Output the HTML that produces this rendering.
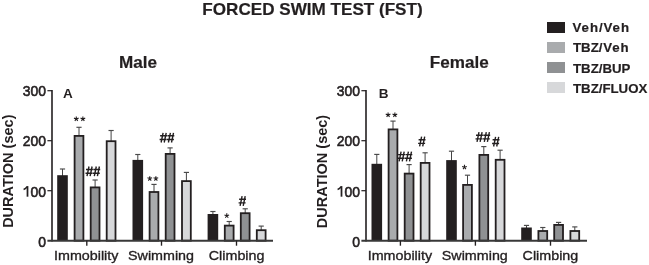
<!DOCTYPE html>
<html><head><meta charset="utf-8"><style>
html,body{margin:0;padding:0;background:#fff;}
svg{display:block;will-change:transform;}
text{font-family:"Liberation Sans",sans-serif;fill:#231f20;}
.tt{font-size:17.1px;font-weight:bold;stroke:#231f20;stroke-width:0.2px;}
.lg{font-size:13.25px;font-weight:bold;stroke:#231f20;stroke-width:0.2px;}
.yl{font-size:14.9px;stroke:#231f20;stroke-width:0.6px;}
.ab{font-size:13.5px;font-weight:bold;}
.xl{font-size:13.5px;stroke:#231f20;stroke-width:0.35px;}
.yt{font-size:14.5px;font-weight:bold;}
.st{font-size:15px;stroke:#231f20;stroke-width:0.35px;}
</style></head><body>
<svg width="649" height="265" viewBox="0 0 649 265">
<line x1="62.50" y1="176.20" x2="62.50" y2="169.00" stroke="#444" stroke-width="1"/>
<line x1="59.90" y1="169.00" x2="65.10" y2="169.00" stroke="#4a4a4a" stroke-width="1.15"/>
<rect x="57.20" y="175.20" width="10.60" height="65.50" fill="#231f20"/>
<line x1="79.00" y1="136.00" x2="79.00" y2="127.30" stroke="#444" stroke-width="1"/>
<line x1="76.40" y1="127.30" x2="81.60" y2="127.30" stroke="#4a4a4a" stroke-width="1.15"/>
<rect x="74.60" y="135.90" width="8.80" height="104.80" fill="#a9abad" stroke="#231f20" stroke-width="1.8"/>
<line x1="95.10" y1="187.50" x2="95.10" y2="180.00" stroke="#444" stroke-width="1"/>
<line x1="92.50" y1="180.00" x2="97.70" y2="180.00" stroke="#4a4a4a" stroke-width="1.15"/>
<rect x="90.70" y="187.40" width="8.80" height="53.30" fill="#8f9193" stroke="#231f20" stroke-width="1.8"/>
<line x1="111.10" y1="141.30" x2="111.10" y2="130.50" stroke="#444" stroke-width="1"/>
<line x1="108.50" y1="130.50" x2="113.70" y2="130.50" stroke="#4a4a4a" stroke-width="1.15"/>
<rect x="106.70" y="141.20" width="8.80" height="99.50" fill="#d7d8da" stroke="#231f20" stroke-width="1.8"/>
<line x1="137.80" y1="160.90" x2="137.80" y2="154.50" stroke="#444" stroke-width="1"/>
<line x1="135.20" y1="154.50" x2="140.40" y2="154.50" stroke="#4a4a4a" stroke-width="1.15"/>
<rect x="132.50" y="159.90" width="10.60" height="80.80" fill="#231f20"/>
<line x1="154.00" y1="192.10" x2="154.00" y2="184.40" stroke="#444" stroke-width="1"/>
<line x1="151.40" y1="184.40" x2="156.60" y2="184.40" stroke="#4a4a4a" stroke-width="1.15"/>
<rect x="149.60" y="192.00" width="8.80" height="48.70" fill="#a9abad" stroke="#231f20" stroke-width="1.8"/>
<line x1="170.10" y1="154.00" x2="170.10" y2="147.90" stroke="#444" stroke-width="1"/>
<line x1="167.50" y1="147.90" x2="172.70" y2="147.90" stroke="#4a4a4a" stroke-width="1.15"/>
<rect x="165.70" y="153.90" width="8.80" height="86.80" fill="#8f9193" stroke="#231f20" stroke-width="1.8"/>
<line x1="186.40" y1="181.20" x2="186.40" y2="172.40" stroke="#444" stroke-width="1"/>
<line x1="183.80" y1="172.40" x2="189.00" y2="172.40" stroke="#4a4a4a" stroke-width="1.15"/>
<rect x="182.00" y="181.10" width="8.80" height="59.60" fill="#d7d8da" stroke="#231f20" stroke-width="1.8"/>
<line x1="212.90" y1="215.00" x2="212.90" y2="211.50" stroke="#444" stroke-width="1"/>
<line x1="210.30" y1="211.50" x2="215.50" y2="211.50" stroke="#4a4a4a" stroke-width="1.15"/>
<rect x="207.60" y="214.00" width="10.60" height="26.70" fill="#231f20"/>
<line x1="229.20" y1="225.70" x2="229.20" y2="221.50" stroke="#444" stroke-width="1"/>
<line x1="226.60" y1="221.50" x2="231.80" y2="221.50" stroke="#4a4a4a" stroke-width="1.15"/>
<rect x="224.80" y="225.60" width="8.80" height="15.10" fill="#a9abad" stroke="#231f20" stroke-width="1.8"/>
<line x1="245.20" y1="213.30" x2="245.20" y2="208.80" stroke="#444" stroke-width="1"/>
<line x1="242.60" y1="208.80" x2="247.80" y2="208.80" stroke="#4a4a4a" stroke-width="1.15"/>
<rect x="240.80" y="213.20" width="8.80" height="27.50" fill="#8f9193" stroke="#231f20" stroke-width="1.8"/>
<line x1="261.20" y1="230.30" x2="261.20" y2="226.10" stroke="#444" stroke-width="1"/>
<line x1="258.60" y1="226.10" x2="263.80" y2="226.10" stroke="#4a4a4a" stroke-width="1.15"/>
<rect x="256.80" y="230.20" width="8.80" height="10.50" fill="#d7d8da" stroke="#231f20" stroke-width="1.8"/>
<line x1="52.00" y1="90.10" x2="52.00" y2="241.40" stroke="#231f20" stroke-width="1.6"/>
<line x1="47.40" y1="240.75" x2="273.00" y2="240.75" stroke="#383838" stroke-width="1.9"/>
<line x1="47.40" y1="190.70" x2="52.00" y2="190.70" stroke="#231f20" stroke-width="1.2"/>
<line x1="47.40" y1="140.70" x2="52.00" y2="140.70" stroke="#231f20" stroke-width="1.2"/>
<line x1="47.40" y1="90.70" x2="52.00" y2="90.70" stroke="#231f20" stroke-width="1.2"/>
<line x1="86.80" y1="240.70" x2="86.80" y2="245.70" stroke="#231f20" stroke-width="1.35"/>
<line x1="161.50" y1="240.70" x2="161.50" y2="245.70" stroke="#231f20" stroke-width="1.35"/>
<line x1="236.50" y1="240.70" x2="236.50" y2="245.70" stroke="#231f20" stroke-width="1.35"/>
<g transform="translate(46.10,246.75) scale(0.935,1)"><text x="0" y="0" text-anchor="end" class="yl">0</text></g>
<g transform="translate(46.10,196.70) scale(0.935,1)"><text x="0" y="0" text-anchor="end" class="yl">00</text></g>
<path d="M27.50,186.10L27.50,196.70" stroke="#231f20" stroke-width="1.75" fill="none"/>
<path d="M27.10,186.70Q25.90,188.70 23.60,189.50" stroke="#231f20" stroke-width="1.5" fill="none"/>
<g transform="translate(46.10,146.45) scale(0.935,1)"><text x="0" y="0" text-anchor="end" class="yl">200</text></g>
<g transform="translate(46.10,96.15) scale(0.935,1)"><text x="0" y="0" text-anchor="end" class="yl">300</text></g>
<g transform="translate(86.20,259.6) scale(1.06,1)"><text x="0" y="0" text-anchor="middle" class="xl">Immobility</text></g>
<g transform="translate(161.00,259.6) scale(1.06,1)"><text x="0" y="0" text-anchor="middle" class="xl">Swimming</text></g>
<g transform="translate(236.60,259.6) scale(1.06,1)"><text x="0" y="0" text-anchor="middle" class="xl">Climbing</text></g>
<text transform="translate(12.80,171.20) rotate(-90)" text-anchor="middle" class="yt">DURATION (sec)</text>
<path d="M76.28,118.90L76.28,116.45M76.28,118.90L78.61,118.14M76.28,118.90L77.72,120.88M76.28,118.90L74.84,120.88M76.28,118.90L73.95,118.14" stroke="#231f20" stroke-width="1.1" fill="none"/>
<path d="M82.88,118.90L82.88,116.45M82.88,118.90L85.21,118.14M82.88,118.90L84.32,120.88M82.88,118.90L81.44,120.88M82.88,118.90L80.55,118.14" stroke="#231f20" stroke-width="1.1" fill="none"/>
<path d="M89.00,166.50L87.00,176.20M92.10,166.50L90.10,176.20M86.00,169.50L92.90,169.50M85.50,173.20L92.50,173.20" stroke="#231f20" stroke-width="1.4" fill="none"/>
<path d="M96.30,166.50L94.30,176.20M99.40,166.50L97.40,176.20M93.30,169.50L100.20,169.50M92.80,173.20L99.80,173.20" stroke="#231f20" stroke-width="1.4" fill="none"/>
<path d="M149.78,178.60L149.78,176.15M149.78,178.60L152.11,177.84M149.78,178.60L151.22,180.58M149.78,178.60L148.34,180.58M149.78,178.60L147.45,177.84" stroke="#231f20" stroke-width="1.1" fill="none"/>
<path d="M155.88,178.60L155.88,176.15M155.88,178.60L158.21,177.84M155.88,178.60L157.32,180.58M155.88,178.60L154.44,180.58M155.88,178.60L153.55,177.84" stroke="#231f20" stroke-width="1.1" fill="none"/>
<path d="M163.10,132.80L161.10,142.50M166.20,132.80L164.20,142.50M160.10,135.80L167.00,135.80M159.60,139.50L166.60,139.50" stroke="#231f20" stroke-width="1.4" fill="none"/>
<path d="M170.40,132.80L168.40,142.50M173.50,132.80L171.50,142.50M167.40,135.80L174.30,135.80M166.90,139.50L173.90,139.50" stroke="#231f20" stroke-width="1.4" fill="none"/>
<path d="M226.78,215.80L226.78,213.35M226.78,215.80L229.11,215.04M226.78,215.80L228.22,217.78M226.78,215.80L225.34,217.78M226.78,215.80L224.45,215.04" stroke="#231f20" stroke-width="1.1" fill="none"/>
<path d="M242.10,196.20L240.10,205.90M245.20,196.20L243.20,205.90M239.10,199.20L246.00,199.20M238.60,202.90L245.60,202.90" stroke="#231f20" stroke-width="1.4" fill="none"/>
<text x="63.1" y="97.7" class="ab">A</text>
<line x1="376.80" y1="164.80" x2="376.80" y2="154.40" stroke="#444" stroke-width="1"/>
<line x1="374.20" y1="154.40" x2="379.40" y2="154.40" stroke="#4a4a4a" stroke-width="1.15"/>
<rect x="371.50" y="163.80" width="10.60" height="76.90" fill="#231f20"/>
<line x1="393.00" y1="129.50" x2="393.00" y2="121.10" stroke="#444" stroke-width="1"/>
<line x1="390.40" y1="121.10" x2="395.60" y2="121.10" stroke="#4a4a4a" stroke-width="1.15"/>
<rect x="388.60" y="129.40" width="8.80" height="111.30" fill="#a9abad" stroke="#231f20" stroke-width="1.8"/>
<line x1="409.10" y1="173.70" x2="409.10" y2="164.60" stroke="#444" stroke-width="1"/>
<line x1="406.50" y1="164.60" x2="411.70" y2="164.60" stroke="#4a4a4a" stroke-width="1.15"/>
<rect x="404.70" y="173.60" width="8.80" height="67.10" fill="#8f9193" stroke="#231f20" stroke-width="1.8"/>
<line x1="425.10" y1="163.00" x2="425.10" y2="152.80" stroke="#444" stroke-width="1"/>
<line x1="422.50" y1="152.80" x2="427.70" y2="152.80" stroke="#4a4a4a" stroke-width="1.15"/>
<rect x="420.70" y="162.90" width="8.80" height="77.80" fill="#d7d8da" stroke="#231f20" stroke-width="1.8"/>
<line x1="451.50" y1="161.10" x2="451.50" y2="151.20" stroke="#444" stroke-width="1"/>
<line x1="448.90" y1="151.20" x2="454.10" y2="151.20" stroke="#4a4a4a" stroke-width="1.15"/>
<rect x="446.20" y="160.10" width="10.60" height="80.60" fill="#231f20"/>
<line x1="467.50" y1="185.00" x2="467.50" y2="175.20" stroke="#444" stroke-width="1"/>
<line x1="464.90" y1="175.20" x2="470.10" y2="175.20" stroke="#4a4a4a" stroke-width="1.15"/>
<rect x="463.10" y="184.90" width="8.80" height="55.80" fill="#a9abad" stroke="#231f20" stroke-width="1.8"/>
<line x1="483.80" y1="155.00" x2="483.80" y2="146.60" stroke="#444" stroke-width="1"/>
<line x1="481.20" y1="146.60" x2="486.40" y2="146.60" stroke="#4a4a4a" stroke-width="1.15"/>
<rect x="479.40" y="154.90" width="8.80" height="85.80" fill="#8f9193" stroke="#231f20" stroke-width="1.8"/>
<line x1="500.10" y1="159.90" x2="500.10" y2="150.20" stroke="#444" stroke-width="1"/>
<line x1="497.50" y1="150.20" x2="502.70" y2="150.20" stroke="#4a4a4a" stroke-width="1.15"/>
<rect x="495.70" y="159.80" width="8.80" height="80.90" fill="#d7d8da" stroke="#231f20" stroke-width="1.8"/>
<line x1="526.50" y1="228.50" x2="526.50" y2="225.40" stroke="#444" stroke-width="1"/>
<line x1="523.90" y1="225.40" x2="529.10" y2="225.40" stroke="#4a4a4a" stroke-width="1.15"/>
<rect x="521.20" y="227.50" width="10.60" height="13.20" fill="#231f20"/>
<line x1="542.80" y1="231.10" x2="542.80" y2="227.50" stroke="#444" stroke-width="1"/>
<line x1="540.20" y1="227.50" x2="545.40" y2="227.50" stroke="#4a4a4a" stroke-width="1.15"/>
<rect x="538.40" y="231.00" width="8.80" height="9.70" fill="#a9abad" stroke="#231f20" stroke-width="1.8"/>
<line x1="558.60" y1="225.00" x2="558.60" y2="222.40" stroke="#444" stroke-width="1"/>
<line x1="556.00" y1="222.40" x2="561.20" y2="222.40" stroke="#4a4a4a" stroke-width="1.15"/>
<rect x="554.20" y="224.90" width="8.80" height="15.80" fill="#8f9193" stroke="#231f20" stroke-width="1.8"/>
<line x1="574.80" y1="231.10" x2="574.80" y2="226.90" stroke="#444" stroke-width="1"/>
<line x1="572.20" y1="226.90" x2="577.40" y2="226.90" stroke="#4a4a4a" stroke-width="1.15"/>
<rect x="570.40" y="231.00" width="8.80" height="9.70" fill="#d7d8da" stroke="#231f20" stroke-width="1.8"/>
<line x1="366.00" y1="90.10" x2="366.00" y2="241.40" stroke="#231f20" stroke-width="1.6"/>
<line x1="361.40" y1="240.75" x2="587.00" y2="240.75" stroke="#383838" stroke-width="1.9"/>
<line x1="361.40" y1="190.70" x2="366.00" y2="190.70" stroke="#231f20" stroke-width="1.2"/>
<line x1="361.40" y1="140.70" x2="366.00" y2="140.70" stroke="#231f20" stroke-width="1.2"/>
<line x1="361.40" y1="90.70" x2="366.00" y2="90.70" stroke="#231f20" stroke-width="1.2"/>
<line x1="400.40" y1="240.70" x2="400.40" y2="245.70" stroke="#231f20" stroke-width="1.35"/>
<line x1="475.40" y1="240.70" x2="475.40" y2="245.70" stroke="#231f20" stroke-width="1.35"/>
<line x1="550.50" y1="240.70" x2="550.50" y2="245.70" stroke="#231f20" stroke-width="1.35"/>
<g transform="translate(360.10,246.75) scale(0.935,1)"><text x="0" y="0" text-anchor="end" class="yl">0</text></g>
<g transform="translate(360.10,196.70) scale(0.935,1)"><text x="0" y="0" text-anchor="end" class="yl">00</text></g>
<path d="M341.50,186.10L341.50,196.70" stroke="#231f20" stroke-width="1.75" fill="none"/>
<path d="M341.10,186.70Q339.90,188.70 337.60,189.50" stroke="#231f20" stroke-width="1.5" fill="none"/>
<g transform="translate(360.10,146.45) scale(0.935,1)"><text x="0" y="0" text-anchor="end" class="yl">200</text></g>
<g transform="translate(360.10,96.15) scale(0.935,1)"><text x="0" y="0" text-anchor="end" class="yl">300</text></g>
<g transform="translate(399.90,259.6) scale(1.06,1)"><text x="0" y="0" text-anchor="middle" class="xl">Immobility</text></g>
<g transform="translate(474.80,259.6) scale(1.06,1)"><text x="0" y="0" text-anchor="middle" class="xl">Swimming</text></g>
<g transform="translate(550.40,259.6) scale(1.06,1)"><text x="0" y="0" text-anchor="middle" class="xl">Climbing</text></g>
<text transform="translate(326.80,171.50) rotate(-90)" text-anchor="middle" class="yt">DURATION (sec)</text>
<path d="M388.08,114.90L388.08,112.45M388.08,114.90L390.41,114.14M388.08,114.90L389.52,116.88M388.08,114.90L386.64,116.88M388.08,114.90L385.75,114.14" stroke="#231f20" stroke-width="1.1" fill="none"/>
<path d="M394.88,114.90L394.88,112.45M394.88,114.90L397.21,114.14M394.88,114.90L396.32,116.88M394.88,114.90L393.44,116.88M394.88,114.90L392.55,114.14" stroke="#231f20" stroke-width="1.1" fill="none"/>
<path d="M401.10,151.60L399.10,161.30M404.20,151.60L402.20,161.30M398.10,154.60L405.00,154.60M397.60,158.30L404.60,158.30" stroke="#231f20" stroke-width="1.4" fill="none"/>
<path d="M408.40,151.60L406.40,161.30M411.50,151.60L409.50,161.30M405.40,154.60L412.30,154.60M404.90,158.30L411.90,158.30" stroke="#231f20" stroke-width="1.4" fill="none"/>
<path d="M421.60,136.70L419.60,146.40M424.70,136.70L422.70,146.40M418.60,139.70L425.50,139.70M418.10,143.40L425.10,143.40" stroke="#231f20" stroke-width="1.4" fill="none"/>
<path d="M464.48,167.20L464.48,164.75M464.48,167.20L466.81,166.44M464.48,167.20L465.92,169.18M464.48,167.20L463.04,169.18M464.48,167.20L462.15,166.44" stroke="#231f20" stroke-width="1.1" fill="none"/>
<path d="M479.00,132.20L477.00,141.90M482.10,132.20L480.10,141.90M476.00,135.20L482.90,135.20M475.50,138.90L482.50,138.90" stroke="#231f20" stroke-width="1.4" fill="none"/>
<path d="M486.30,132.20L484.30,141.90M489.40,132.20L487.40,141.90M483.30,135.20L490.20,135.20M482.80,138.90L489.80,138.90" stroke="#231f20" stroke-width="1.4" fill="none"/>
<path d="M495.60,136.80L493.60,146.50M498.70,136.80L496.70,146.50M492.60,139.80L499.50,139.80M492.10,143.50L499.10,143.50" stroke="#231f20" stroke-width="1.4" fill="none"/>
<text x="378.7" y="97.8" class="ab">B</text>
<text x="312.5" y="14.8" text-anchor="middle" class="tt">FORCED SWIM TEST (FST)</text>
<text x="138.1" y="67.9" text-anchor="middle" class="tt">Male</text>
<text x="459.3" y="67.8" text-anchor="middle" class="tt">Female</text>
<rect x="547" y="22" width="18" height="11" fill="#231f20"/>
<text x="572.5" y="32.1" class="lg"><tspan letter-spacing="0.95">Veh/Veh</tspan></text>
<rect x="547" y="42" width="18" height="11" fill="#a9abad"/>
<text x="573.0" y="52.1" class="lg">TBZ<tspan letter-spacing="0.9">/Veh</tspan></text>
<rect x="547" y="62" width="18" height="11" fill="#8f9193"/>
<text x="573.0" y="72.5" class="lg">TBZ/BUP</text>
<rect x="547" y="82" width="18" height="11" fill="#d7d8da"/>
<text x="573.0" y="92.5" class="lg">TBZ/FLUOX</text>
</svg>
</body></html>
